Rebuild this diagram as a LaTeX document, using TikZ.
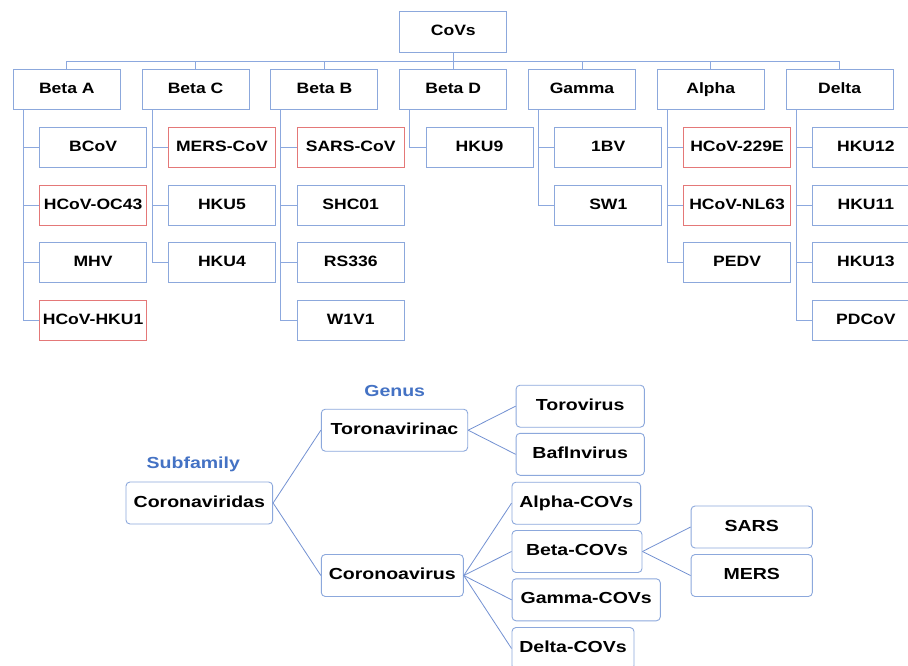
\documentclass[tikz,border=0pt]{standalone}
\usepackage{fontspec}
\setmainfont{Liberation Sans}
\newfontfamily\topfont{Liberation Sans}[FakeStretch=1.17]
\newfontfamily\botfont{Liberation Sans}[FakeStretch=1.22]
\definecolor{boxblue}{RGB}{140,168,220}
\definecolor{lineblue}{RGB}{140,168,222}
\definecolor{conblue}{RGB}{115,145,210}
\definecolor{boxred}{RGB}{228,120,120}
\definecolor{labblue}{RGB}{68,114,196}
\tikzset{
  tbox/.style={draw=boxblue, line width=0.9pt, minimum width=107pt, minimum height=40pt,
    inner sep=0pt, text height=11pt, text depth=3pt, text=black,
    font=\topfont\bfseries\fontsize{15}{18}\selectfont},
  tred/.style={tbox, draw=boxred},
  bbox/.style={draw=boxblue, rounded corners=4pt, line width=0.9pt, minimum height=42pt,
    inner sep=0pt, text height=11.5pt, text depth=3.5pt, text=black,
    font=\botfont\bfseries\fontsize{16}{19}\selectfont},
  lab/.style={inner sep=0pt, text=labblue, font=\botfont\bfseries\fontsize{16}{19}\selectfont},
  tline/.style={draw=lineblue, line width=0.9pt},
  bline/.style={draw=conblue, line width=0.8pt}
}
\begin{document}
\begin{tikzpicture}[x=1pt,y=-1pt]
\useasboundingbox (0,0) rectangle (908,666);
\fill[white] (0,0) rectangle (908,666);
\clip (0,0) rectangle (908,666);

% ---- top tree ----
\node[tbox, minimum height=41pt] (cov) at (453.3,31.5) {CoVs};
\node[tbox] (ba) at (66.8,89.3) {Beta A};
\node[tbox] (bc) at (195.6,89.3) {Beta C};
\node[tbox] (bb) at (324.4,89.3) {Beta B};
\node[tbox] (bd) at (453.2,89.3) {Beta D};
\node[tbox] (ga) at (582.0,89.3) {Gamma};
\node[tbox] (al) at (710.8,89.3) {Alpha};
\node[tbox] (de) at (839.6,89.3) {Delta};

\coordinate (bus) at (0,61);
\draw[tline] (cov.south) -- (cov.south |- bus);
\draw[tline] (ba.north |- bus) -- (de.north |- bus);
\foreach \n in {ba,bc,bb,bd,ga,al,de} \draw[tline] (\n.north) -- (\n.north |- bus);

% children
\node[tbox] (ba1) at (93.1,147.3) {BCoV};
\node[tred] (ba2) at (93.1,205.1) {HCoV-OC43};
\node[tbox] (ba3) at (93.1,262.9) {MHV};
\node[tred] (ba4) at (93.1,320.7) {HCoV-HKU1};

\node[tred] (bc1) at (221.9,147.3) {MERS-CoV};
\node[tbox] (bc2) at (221.9,205.1) {HKU5};
\node[tbox] (bc3) at (221.9,262.9) {HKU4};

\node[tred] (bb1) at (350.7,147.3) {SARS-CoV};
\node[tbox] (bb2) at (350.7,205.1) {SHC01};
\node[tbox] (bb3) at (350.7,262.9) {RS336};
\node[tbox] (bb4) at (350.7,320.7) {W1V1};

\node[tbox] (bd1) at (479.5,147.3) {HKU9};

\node[tbox] (ga1) at (608.3,147.3) {1BV};
\node[tbox] (ga2) at (608.3,205.1) {SW1};

\node[tred] (al1) at (737.1,147.3) {HCoV-229E};
\node[tred] (al2) at (737.1,205.1) {HCoV-NL63};
\node[tbox] (al3) at (737.1,262.9) {PEDV};

\node[tbox] (de1) at (865.9,147.3) {HKU12};
\node[tbox] (de2) at (865.9,205.1) {HKU11};
\node[tbox] (de3) at (865.9,262.9) {HKU13};
\node[tbox] (de4) at (865.9,320.7) {PDCoV};

% trunks
\foreach \p/\last/\others in {ba/ba4/{ba1,ba2,ba3}, bc/bc3/{bc1,bc2}, bb/bb4/{bb1,bb2,bb3},
  bd/bd1/{}, ga/ga2/{ga1}, al/al3/{al1,al2}, de/de4/{de1,de2,de3}}{
  \coordinate (t\p) at ([xshift=10.4pt]\p.south west);
  \draw[tline] (t\p) |- (\last.west);
  \foreach \c in \others {\draw[tline] (\c.west) -- (\c.west -| t\p);}
}

% ---- bottom tree ----
\node[lab] (sub) at (193.3,464.3) {Subfamily};
\node[lab] (gen) at (394.7,391) {Genus};

\node[bbox, minimum width=146.7pt] (cvd) at (199.3,503) {Coronaviridas};
\node[bbox, minimum width=146.4pt] (tor) at (394.5,430.2) {Toronavirinac};
\node[bbox, minimum width=142pt] (cor) at (392.3,575.5) {Coronoavirus};
\node[bbox, minimum width=128.3pt] (tov) at (580.2,406.2) {Torovirus};
\node[bbox, minimum width=128.3pt] (baf) at (580.2,454.3) {Baflnvirus};
\node[bbox, minimum width=128.7pt] (alc) at (576.3,503.2) {Alpha-COVs};
\node[bbox, minimum width=130pt] (bec) at (577,551.5) {Beta-COVs};
\node[bbox, minimum width=148.3pt] (gac) at (586.2,599.8) {Gamma-COVs};
\node[bbox, minimum width=122pt] (dec) at (573,648.5) {Delta-COVs};
\node[bbox, minimum width=121.3pt] (sars) at (751.7,527) {SARS};
\node[bbox, minimum width=121.3pt] (mers) at (751.7,575.5) {MERS};

\draw[bline] (cvd.east) -- (tor.west);
\draw[bline] (cvd.east) -- (cor.west);
\draw[bline] (tor.east) -- (tov.west);
\draw[bline] (tor.east) -- (baf.west);
\foreach \c in {alc,bec,gac,dec} \draw[bline] (cor.east) -- (\c.west);
\draw[bline] (bec.east) -- (sars.west);
\draw[bline] (bec.east) -- (mers.west);
\end{tikzpicture}
\end{document}
